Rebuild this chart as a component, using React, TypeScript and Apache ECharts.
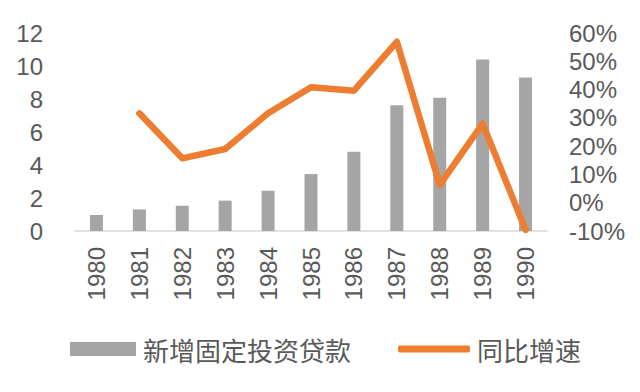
import React, { useEffect, useRef } from "react";
import * as echarts from "echarts";

const categories = ["1980", "1981", "1982", "1983", "1984", "1985", "1986", "1987", "1988", "1989", "1990"];
const loans = [0.97, 1.31, 1.53, 1.84, 2.44, 3.45, 4.8, 7.62, 8.08, 10.4, 9.3];
const growth = [null, 31.6, 15.7, 19.0, 31.6, 40.8, 39.6, 56.9, 6.3, 28.0, -9.6];
const barName = "新增固定投资贷款";
const lineName = "同比增速";

const TEXT = "#595959";
const FONT = "'Liberation Sans', 'Noto Sans CJK SC', sans-serif";

export default function App() {
  const ref = useRef<HTMLDivElement>(null);
  useEffect(() => {
    if (!ref.current) return;
    const chart = echarts.init(ref.current, null, { renderer: "svg" });
    chart.setOption({
      animation: false,
      backgroundColor: "#ffffff",
      textStyle: { fontFamily: FONT },
      grid: { left: 75, right: 93, top: 33, bottom: 161, containLabel: false },
      legend: [
        {
          data: [{ name: barName, icon: "rect" }],
          left: 70,
          top: 336,
          padding: 0,
          itemWidth: 66,
          itemHeight: 14,
          itemGap: 7,
          textStyle: { color: TEXT, fontSize: 26, fontFamily: "'Noto Sans CJK SC', sans-serif", padding: [0, 0, 0, 2] },
        },
        {
          data: [{ name: lineName, icon: "roundRect" }],
          left: 398,
          top: 336,
          padding: 0,
          itemWidth: 72,
          itemHeight: 7,
          itemStyle: { color: "#ED7D31" },
          textStyle: { color: TEXT, fontSize: 26, fontFamily: "'Noto Sans CJK SC', sans-serif", padding: [0, 0, 0, 2] },
        },
      ],
      xAxis: {
        type: "category",
        data: categories,
        axisLine: { lineStyle: { color: "#D9D9D9", width: 1.5 } },
        axisTick: { show: false },
        axisLabel: { rotate: 90, color: TEXT, fontSize: 24, margin: 16, fontFamily: FONT },
      },
      yAxis: [
        {
          type: "value",
          min: 0,
          max: 12,
          interval: 2,
          splitLine: { show: false },
          axisLine: { show: false },
          axisTick: { show: false },
          axisLabel: { color: TEXT, fontSize: 24, margin: 32, fontFamily: FONT },
        },
        {
          type: "value",
          min: -10,
          max: 60,
          interval: 10,
          position: "right",
          splitLine: { show: false },
          axisLine: { show: false },
          axisTick: { show: false },
          axisLabel: { color: TEXT, fontSize: 24, margin: 22, formatter: "{value}%", fontFamily: FONT },
        },
      ],
      series: [
        {
          name: barName,
          type: "bar",
          data: loans,
          barWidth: 13,
          itemStyle: { color: "#A5A5A5" },
        },
        {
          name: lineName,
          type: "line",
          yAxisIndex: 1,
          data: growth,
          symbol: "none",
          connectNulls: false,
          lineStyle: { color: "#ED7D31", width: 6.5, cap: "round", join: "round" },
          itemStyle: { color: "#ED7D31" },
        },
      ],
    });
    return () => chart.dispose();
  }, []);
  return <div ref={ref} style={{ position: "absolute", left: 0, top: 0, width: 640, height: 392 }} />;
}
